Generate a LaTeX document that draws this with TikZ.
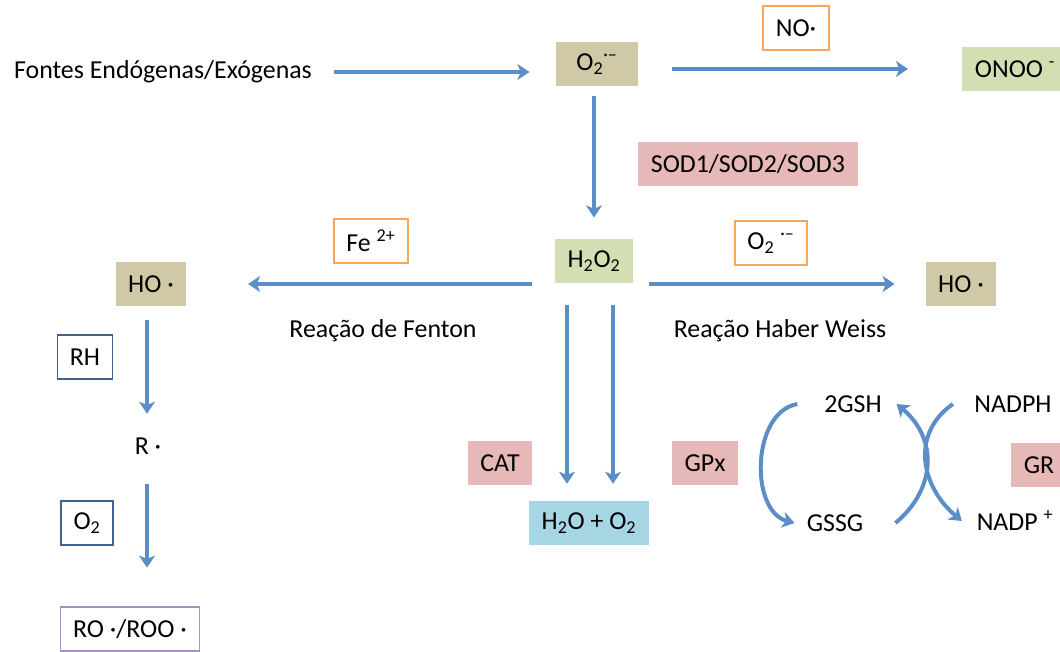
\documentclass[tikz,border=0pt]{standalone}
\usepackage{fontspec}
\setmainfont{Carlito}
\usetikzlibrary{arrows.meta}

\definecolor{arrowblue}{HTML}{5B8DC6}
\definecolor{radtan}{HTML}{CFC9A7}
\definecolor{prodgreen}{HTML}{D2DFB2}
\definecolor{enzpink}{HTML}{E6B9B8}
\definecolor{waterblue}{HTML}{A6D6E3}
\definecolor{reagorange}{HTML}{F9A65A}
\definecolor{subblue}{HTML}{3F638E}
\definecolor{roopurple}{HTML}{A392C4}

\begin{document}
\begin{tikzpicture}
[
    x=0.75pt, y=-0.75pt,
    every node/.style={font=\fontsize{19.4}{23}\selectfont},
    label/.style={inner sep=0pt},
    box/.style={minimum height=33pt, inner xsep=9.5pt, inner ysep=0pt},
    radical/.style={box, fill=radtan},
    product/.style={box, fill=prodgreen},
    enzyme/.style={box, fill=enzpink},
    reagent/.style={box, draw=reagorange, line width=1.1pt, fill=white},
    substrate/.style={box, draw=subblue, line width=1.1pt},
    arr/.style={draw=arrowblue, line width=3pt, -{Stealth[length=9pt,width=12pt,inset=2.5pt]}}
]
    \clip (0,0) rectangle (1060,652);

    % superoxide and hydrogen peroxide
    \node [label] (src) at (163,72) {Fontes Endógenas/Exógenas};
    \node [radical, minimum width=61pt] (otwo) at (597,64) {O\textsubscript{2}\textsuperscript{·–}};
    \node [reagent] (no) at (796,28) {NO·};
    \node [product, anchor=west] (onoo) at (962,69) {ONOO \textsuperscript{-}};
    \node [enzyme] (sod) at (748,164) {SOD1/SOD2/SOD3};
    \node [product] (hto) at (594,261) {H\textsubscript{2}O\textsubscript{2}};
    \node [reagent] (fe) at (371,241) {Fe \textsuperscript{2+}};
    \node [radical] (hoL) at (151,284) {HO ·};
    \node (fenton) at (383,331) {Reação de Fenton};
    \node [reagent] (otwoB) at (771,243) {O\textsubscript{2} \textsuperscript{·–}};
    \node [radical] (hoR) at (961,284) {HO ·};
    \node (haber) at (780,331) {Reação Haber Weiss};
    \node [enzyme] (cat) at (500,463) {CAT};
    \node [enzyme] (gpx) at (705,463) {GPx};
    \node [box, fill=waterblue] (water) at (589,523) {H\textsubscript{2}O + O\textsubscript{2}};
    \coordinate (catin) at ([xshift=-16.5pt]water.north);
    \coordinate (gpxin) at ([xshift=18pt]water.north);

    \draw [arr, shorten <=16pt, shorten >=20pt] (src.east) -- (src.east -| otwo.west);
    \draw [arr, shorten <=25.5pt, shorten >=40.5pt] (otwo.east |- onoo) -- (onoo.west);
    \draw [arr, shorten <=7pt, shorten >=16pt] (hto.north |- otwo.south) -- (hto.north);
    \draw [arr, shorten <=17pt, shorten >=46pt] (hto.west |- hoL) -- (hoL.east);
    \draw [arr, shorten <=12pt, shorten >=23pt] (hto.east |- hoR) -- (hoR.west);
    \draw [arr, shorten <=16.5pt, shorten >=12.75pt] (catin |- hto.south) -- (catin);
    \draw [arr, shorten <=16.5pt, shorten >=12.75pt] (gpxin |- hto.south) -- (gpxin);

    % lipid peroxidation
    \begin{scope}
        \node [substrate] (rh) at (85,357) {RH};
        \node [box] (rad) at (148,446) {R ·};
        \node [substrate] (otwoC) at (87,523) {O\textsubscript{2}};
        \node [box, draw=roopurple, line width=1.1pt] (roo) at (130,629) {RO ·/ROO ·};
        \coordinate (lpx) at (147,0);
        \draw [arr, shorten <=10.5pt, shorten >=7.5pt] (lpx |- hoL.south) -- (lpx |- rad.north);
        \draw [arr, shorten <=12pt, shorten >=29pt] (lpx |- rad.south) -- (lpx |- roo.north);
    \end{scope}

    % glutathione cycle
    \begin{scope}
        \node [label] (gsh) at (853,404) {2GSH};
        \node [label] (gssg) at (835,523) {GSSG};
        \node [label] (nadph) at (1013,404) {NADPH};
        \node [label] (nadp) at (1015,521) {NADP \textsuperscript{+}};
        \node [enzyme] (gr) at (1039,465) {GR};
        \draw [arr] ([xshift=-20pt]gsh.west) to [out=190, in=165] ([xshift=-9pt]gssg.west);
        \draw [arr] ([xshift=24pt]gssg.east) to [out=40, in=-40, looseness=1.15] ([xshift=11pt]gsh.east);
        \draw [arr] ([xshift=-16pt]nadph.west) to [out=215, in=140, looseness=1.15] ([xshift=-11pt]nadp.west);
    \end{scope}
\end{tikzpicture}
\end{document}
